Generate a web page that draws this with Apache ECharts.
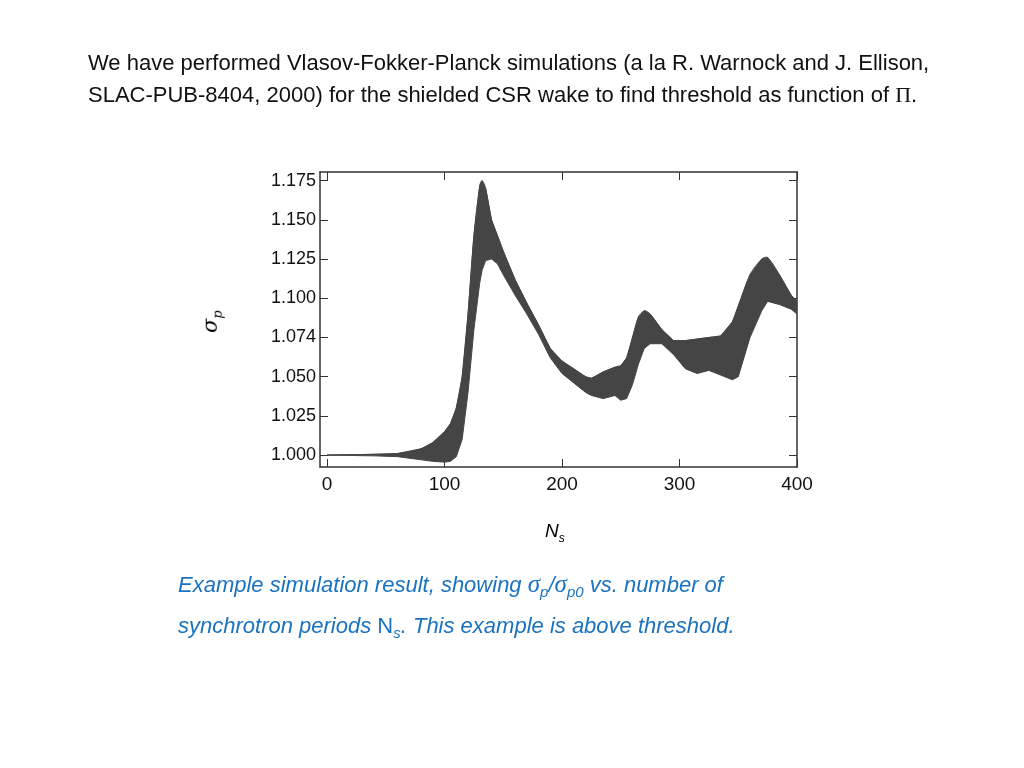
<!DOCTYPE html>
<html><head><meta charset="utf-8">
<script src="https://cdn.jsdelivr.net/npm/echarts@6/dist/echarts.min.js"></script>
<style>
body{margin:0;background:#fff;width:1024px;height:768px;position:relative;font-family:"Liberation Sans",Arial,sans-serif;}
#top{position:absolute;left:88px;top:47px;font-size:22px;line-height:31.5px;color:#111;width:900px;}
#cap{position:absolute;left:178px;top:567px;font-size:22px;line-height:34px;color:#1a73c0;font-style:italic;}
#chart{position:absolute;left:0;top:0;width:1024px;height:768px;}
.ylab{position:absolute;left:200px;top:308px;font-size:21px;font-style:italic;transform:rotate(-90deg);font-family:"DejaVu Serif",serif;}
.xlab{position:absolute;left:545px;top:520px;font-size:19px;font-style:italic;}
.s{font-family:'Liberation Serif',serif;font-size:25px;}
sub{font-size:15px;}
</style></head><body>
<div id="chart"></div>
<div id="top">We have performed Vlasov-Fokker-Planck simulations (a la R. Warnock and J. Ellison, SLAC-PUB-8404, 2000) for the shielded CSR wake to find threshold as function of <span style="font-family:'Liberation Serif',serif">Π</span>.</div>
<div class="ylab">σ<sub style="font-size:13px">p</sub></div>
<div class="xlab">N<sub style="font-size:12px">s</sub></div>
<div id="cap">Example simulation result, showing <span class="s">σ</span><sub>p</sub>/<span class="s">σ</span><sub>p0</sub> vs. number of<br>synchrotron periods <span style="font-style:normal">N</span><sub>s</sub>. This example is above threshold.</div>
<script>
const xs=[0,40,60,80,90,100,105,110,115,120,125,130,132,135,140,145,150,160,170,180,190,200,210,220,225,235,245,250,255,260,265,270,275,285,295,305,315,325,335,345,350,360,370,375,385,395,400];
const upper=[1.000,1.0005,1.001,1.004,1.008,1.015,1.02,1.03,1.05,1.09,1.14,1.172,1.175,1.170,1.150,1.140,1.130,1.112,1.097,1.083,1.068,1.060,1.055,1.050,1.049,1.053,1.056,1.057,1.062,1.075,1.088,1.092,1.090,1.080,1.073,1.073,1.074,1.075,1.076,1.085,1.095,1.115,1.125,1.126,1.115,1.102,1.098];
const lower=[1.000,0.9995,0.999,0.997,0.996,0.9955,0.996,0.999,1.01,1.04,1.08,1.11,1.118,1.124,1.125,1.122,1.115,1.102,1.09,1.077,1.062,1.052,1.046,1.040,1.038,1.036,1.038,1.035,1.036,1.045,1.058,1.068,1.071,1.071,1.064,1.055,1.052,1.054,1.051,1.048,1.050,1.075,1.092,1.098,1.096,1.093,1.090];
const yTicks=[1.000,1.025,1.050,1.075,1.100,1.125,1.150,1.175];
const yTickLabels=['1.000','1.025','1.050','1.074','1.100','1.125','1.150','1.175'];
const c=echarts.init(document.getElementById('chart'));
const ax={lineStyle:{color:'#333',width:1.5}};
const xa=(show)=>({type:'value',min:-6,max:400,axisLine:{show:true,onZero:false,...ax},
 axisTick:{inside:true,length:8,lineStyle:{color:'#333'},customValues:[0,100,200,300,400]},
 minorTick:{show:false},splitLine:{show:false},
 axisLabel:{show:show,color:'#111',fontSize:19,fontFamily:'Liberation Sans',margin:8,customValues:[0,100,200,300,400]}});
const ya=(show)=>({type:'value',min:0.9924,max:1.1805,axisLine:{show:true,onZero:false,...ax},
 axisTick:{inside:true,length:8,lineStyle:{color:'#333'},customValues:yTicks},
 minorTick:{show:false},splitLine:{show:false},
 axisLabel:{show:show,color:'#111',fontSize:18,fontFamily:'Liberation Sans',margin:4,customValues:yTicks,
  formatter:v=>{let i=yTicks.findIndex(t=>Math.abs(t-v)<1e-6);return i>=0?yTickLabels[i]:'';}}});
const data=xs.map((x,i)=>[x,lower[i],upper[i]]);
c.setOption({animation:false,
 grid:{left:320,right:227,top:172,bottom:301},
 xAxis:[xa(true),{...xa(false),position:'top'}],
 yAxis:[ya(true),{...ya(false),position:'right'}],
 series:[{type:'custom',data:data,encode:{x:0,y:[1,2]},clip:true,
  renderItem:(params,api)=>{
   if(params.dataIndex!==0) return;
   const up=data.map(d=>api.coord([d[0],d[2]]));
   const lo=data.map(d=>api.coord([d[0],d[1]])).reverse();
   return {type:'group',children:[
    {type:'polyline',shape:{points:up,smooth:0.3},style:{fill:null,stroke:'#454545',lineWidth:1}},
    {type:'polygon',shape:{points:up.concat(lo),smooth:0},style:{fill:'#454545',stroke:'#454545',lineWidth:1}}]};
  }}]});
</script></body></html>
